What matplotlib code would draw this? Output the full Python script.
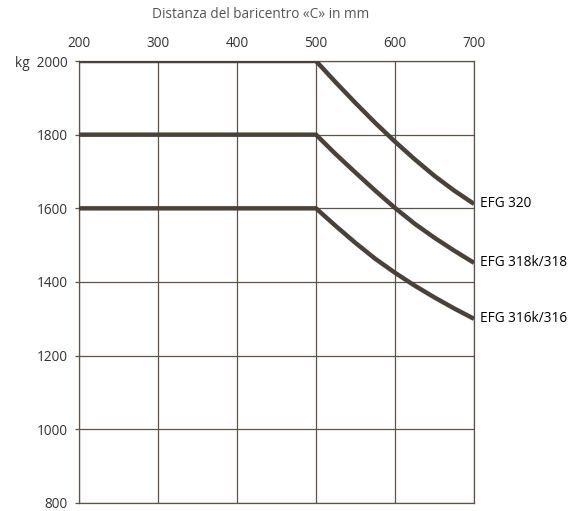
import matplotlib.pyplot as plt
import numpy as np

plt.rcParams['font.family'] = ['Open Sans', 'DejaVu Sans']

# distanza baricentro (mm) e portata (kg)
dist = [200, 300, 400, 500, 525, 550, 575, 600, 625, 650, 675, 700]
efg_320 = [2000, 2000, 2000, 2000, 1942, 1886, 1832, 1781, 1733, 1688, 1648, 1612]
efg_318 = [1800, 1800, 1800, 1800, 1747, 1697, 1648, 1601, 1558, 1520, 1485, 1452]
efg_316 = [1600, 1600, 1600, 1600, 1552, 1506, 1463, 1425, 1390, 1358, 1328, 1300]
series_labels = ['EFG 320', 'EFG 318k/318', 'EFG 316k/316']

x_ticks = [200, 300, 400, 500, 600, 700]
y_ticks = [800, 1000, 1200, 1400, 1600, 1800, 2000]

line_col = '#48423a'
grid_col = '#5a554c'
text_col = '#555555'

fig = plt.figure(figsize=(5.78, 5.11), dpi=100)
ax = fig.add_axes([0.1367, 0.0157, 0.8201 - 0.1367, 0.8806 - 0.0157])

for vals, lab in zip([efg_320, efg_318, efg_316], series_labels):
    ax.plot(dist, vals, color=line_col, lw=3.2, solid_capstyle='butt',
            solid_joinstyle='round', zorder=3)
    ax.annotate(lab, xy=(dist[-1], vals[-1]), xytext=(4, 0), textcoords='offset points',
                va='center', ha='left', fontsize=9.8, color='black', annotation_clip=False)

ax.set_xlim(200, 700)
ax.set_ylim(800, 2000)
ax.set_xticks(x_ticks)
ax.set_yticks(y_ticks)
ax.set_yticklabels([str(v) if v != 2000 else 'kg  2000' for v in y_ticks])
ax.xaxis.tick_top()
ax.tick_params(axis='x', length=0, pad=7, labelsize=9.8, labelcolor='#333333')
ax.tick_params(axis='y', length=3, width=0.9, color=grid_col, pad=5, labelsize=9.8, labelcolor='#333333')
ax.grid(True, color=grid_col, lw=0.9)
ax.set_axisbelow(True)
for s in ax.spines.values():
    s.set_color(grid_col)
    s.set_linewidth(0.9)

fig.text(0.451, 0.972, 'Distanza del baricentro «C» in mm', ha='center', va='center',
         fontsize=9.8, color=text_col)

plt.savefig('out.png', dpi=100)
